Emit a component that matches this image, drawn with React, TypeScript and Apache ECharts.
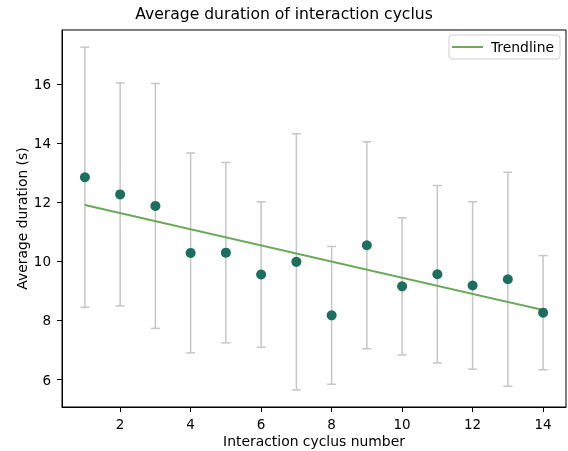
import React, { useEffect, useRef } from "react";
import * as echarts from "echarts";

const cycles = [1, 2, 3, 4, 5, 6, 7, 8, 9, 10, 11, 12, 13, 14];
const meanDuration = [12.84, 12.26, 11.87, 10.28, 10.29, 9.55, 9.98, 8.17, 10.54, 9.15, 9.56, 9.18, 9.39, 8.26];
const stdDuration = [4.4, 3.77, 4.14, 3.38, 3.05, 2.46, 4.33, 2.33, 3.5, 2.32, 3.0, 2.83, 3.62, 1.93];
const trendX = [1, 14];
const trendY = [11.9, 8.35];
const xTicks = [2, 4, 6, 8, 10, 12, 14];
const yTicks = [6, 8, 10, 12, 14, 16];

const FONT = "DejaVu Sans";
const FS = 13.9;

export default function App() {
  const ref = useRef<HTMLDivElement>(null);
  useEffect(() => {
    if (!ref.current) return;
    const chart = echarts.init(ref.current, undefined, { renderer: "svg" });
    const errData = cycles.map((c, i) => [c, meanDuration[i] - stdDuration[i], meanDuration[i] + stdDuration[i]]);
    const lows = errData.map((d) => d[1]);
    const highs = errData.map((d) => d[2]);
    const yLo = Math.min(...lows);
    const yHi = Math.max(...highs);
    const yPad = (yHi - yLo) * 0.05;
    const xLo = Math.min(...cycles);
    const xHi = Math.max(...cycles);
    const xPad = (xHi - xLo) * 0.05;
    chart.setOption({
      animation: false,
      textStyle: { fontFamily: FONT },
      title: {
        text: "Average duration of interaction cyclus",
        left: "center",
        top: 1,
        textStyle: { fontFamily: FONT, fontSize: 15.6, fontWeight: "normal", color: "#000" },
      },
      legend: {
        right: 8,
        top: 35,
        data: [{ name: "Trendline", icon: "rect" }],
        itemWidth: 31,
        itemHeight: 2,
        itemGap: 8,
        padding: [5, 6, 5, 3],
        borderColor: "#d0d0d0",
        borderWidth: 1,
        borderRadius: 3,
        textStyle: { fontFamily: FONT, fontSize: FS, color: "#000", padding: [0, 0, 0, 3] },
      },
      grid: {
        left: 62,
        right: 2,
        top: 30,
        bottom: 44,
        show: true,
        borderColor: "#000",
        borderWidth: 1,
        backgroundColor: "transparent",
        containLabel: false,
        outerBoundsMode: "none",
      },
      xAxis: {
        type: "value",
        min: xLo - xPad,
        max: xHi + xPad,
        name: "Interaction cyclus number",
        nameLocation: "middle",
        nameGap: 27,
        nameMoveOverlap: false,
        nameTextStyle: { fontFamily: FONT, fontSize: FS, color: "#000" },
        axisLine: { show: true, lineStyle: { color: "#000", width: 1 } },
        axisTick: { show: true, customValues: xTicks, length: 5, lineStyle: { color: "#000" } },
        axisLabel: { customValues: xTicks, fontFamily: FONT, fontSize: 13.5, color: "#000", margin: 10 },
        splitLine: { show: false },
      },
      yAxis: {
        type: "value",
        min: yLo - yPad,
        max: yHi + yPad,
        name: "Average duration (s)",
        nameLocation: "middle",
        nameGap: 33,
        nameMoveOverlap: false,
        nameTextStyle: { fontFamily: FONT, fontSize: FS, color: "#000" },
        axisLine: { show: true, lineStyle: { color: "#000", width: 1 } },
        axisTick: { show: true, customValues: yTicks, length: 5, lineStyle: { color: "#000" } },
        axisLabel: { customValues: yTicks, fontFamily: FONT, fontSize: 13.5, color: "#000", margin: 11 },
        splitLine: { show: false },
      },
      series: [
        {
          type: "custom",
          name: "err",
          data: errData,
          silent: true,
          z: 1,
          renderItem: (params: any, api: any) => {
            const x = api.value(0);
            const lo = api.coord([x, api.value(1)]);
            const hi = api.coord([x, api.value(2)]);
            const hw = 4.5;
            const style = { stroke: "#c6c6c6", lineWidth: 1.5 };
            return {
              type: "group",
              children: [
                { type: "line", shape: { x1: lo[0], y1: lo[1], x2: hi[0], y2: hi[1] }, style },
                { type: "line", shape: { x1: lo[0] - hw, y1: lo[1], x2: lo[0] + hw, y2: lo[1] }, style },
                { type: "line", shape: { x1: hi[0] - hw, y1: hi[1], x2: hi[0] + hw, y2: hi[1] }, style },
              ],
            };
          },
        },
        {
          type: "line",
          name: "Trendline",
          data: trendX.map((x, i) => [x, trendY[i]]),
          symbol: "none",
          lineStyle: { color: "#6aa85a", width: 2 },
          itemStyle: { color: "#6aa85a" },
          z: 2,
        },
        {
          type: "scatter",
          name: "mean",
          data: cycles.map((c, i) => [c, meanDuration[i]]),
          symbolSize: 10,
          itemStyle: { color: "#1d6e5f", opacity: 1 },
          z: 3,
        },
      ],
    });
    return () => chart.dispose();
  }, []);
  return <div ref={ref} style={{ position: "fixed", left: 0, top: 0, width: 568, height: 451 }} />;
}
